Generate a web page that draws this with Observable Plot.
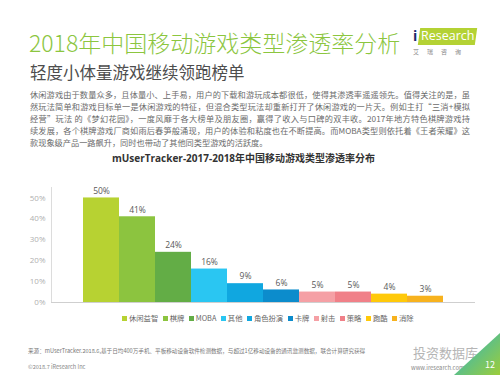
<!DOCTYPE html>
<html><head><meta charset="utf-8">
<script src="https://cdn.jsdelivr.net/npm/d3@7"></script>
<script src="https://cdn.jsdelivr.net/npm/@observablehq/plot@0.6"></script>
<style>
html,body{margin:0;padding:0;background:#fff;}
body{width:500px;height:375px;position:relative;overflow:hidden;font-family:"Noto Sans CJK SC","Open Sans",sans-serif;}
.abs{position:absolute;white-space:nowrap;}
#title{left:29px;top:27px;font-size:23px;line-height:30px;color:#8cc63f;font-weight:300;}
#subtitle{left:30px;top:61px;font-size:16.5px;line-height:22px;color:#4d4d4d;}
#body{left:30px;top:88px;width:440px;font-size:8.2px;line-height:12px;color:#6b6b6b;}
#body div{text-align:justify;text-align-last:justify;white-space:nowrap;}
#body div.last{text-align-last:left;}
#ctitle{left:0;width:487px;text-align:center;top:150px;font-size:10px;font-weight:bold;color:#333;font-family:"Open Sans","Noto Sans CJK SC",sans-serif;line-height:16px;}
#chart{left:0;top:175px;}
#legend{left:122px;top:312px;display:flex;gap:4.5px;font-size:7.3px;line-height:12px;color:#666;}
#legend span.sw{display:inline-block;width:5px;height:5px;margin-right:2px;vertical-align:0px;}
#src{left:28px;top:347px;font-size:5.6px;color:#777;}
#copy{left:28px;top:363px;font-size:5.6px;color:#888;}
#web{left:411px;top:363px;font-size:5.8px;color:#888;}
#wm{left:413px;top:343px;font-size:13px;color:#b5b5b5;}
#corner{right:0;bottom:0;width:46px;height:42px;background:linear-gradient(135deg,#29b6e8 0%,#5bbf8a 45%,#9ccd3a 100%);clip-path:polygon(100% 0,100% 100%,0 100%);}
#pnum{left:485px;top:358px;font-size:9px;color:#fff;}
#logo{left:412px;top:26px;width:70px;height:32px;}
#logo .bar{position:absolute;left:7px;top:2px;width:57px;height:17px;background:#b4d234;transform:skewX(-8deg);}
#logo .txt{position:absolute;left:9px;top:1px;font-size:12.5px;line-height:18px;color:#fff;font-family:"Open Sans",sans-serif;}
#logo .i{position:absolute;left:1px;top:0px;font-size:14px;line-height:19px;color:#1a2a6c;font-family:"Open Sans",sans-serif;font-weight:bold;}
#logo .cn{position:absolute;left:1px;top:22px;font-size:6px;line-height:8px;color:#888;letter-spacing:8px;white-space:nowrap;}
</style></head>
<body>
<div id="title" class="abs">2018年中国移动游戏类型渗透率分析</div>
<div id="subtitle" class="abs">轻度小体量游戏继续领跑榜单</div>
<div id="logo" class="abs"><div class="bar"></div><div class="i">i</div><div class="txt">Research</div><div class="cn">艾瑞咨询</div></div>
<div id="body" class="abs"></div>
<div id="ctitle" class="abs">mUserTracker-2017-2018年中国移动游戏类型渗透率分布</div>
<div id="chart" class="abs"></div>
<div id="legend" class="abs"></div>
<div id="src" class="abs">来源：mUserTracker.2018.6,基于日均400万手机、平板移动设备软件检测数据，与超过1亿移动设备的通讯监测数据，联合计算研究获得</div>
<div id="copy" class="abs">©2018.7 iResearch Inc</div>
<div id="wm" class="abs">投资数据库</div>
<div id="web" class="abs">www.iresearch.com.cn</div>
<div id="corner" class="abs"></div>
<div id="pnum" class="abs">12</div>
<script>
const categories = ["休闲益智","棋牌","MOBA","其他","角色扮演","卡牌","射击","策略","跑酷","消除"];
const values = [50,41,24,16,9,6,5,5,4,3];
const colors = ["#b7d232","#8cc43f","#63ad46","#2ac6f2","#10a7e0","#0c8ccc","#f5a0a5","#f08088","#ffc90a","#f7b21e"];
const yTicks = [0,10,20,30,40,50];
const bodyLines = [
  "休闲游戏由于数量众多，且体量小、上手易，用户的下载和游玩成本都很低，使得其渗透率遥遥领先。值得关注的是，虽",
  "然玩法简单和游戏目标单一是休闲游戏的特征，但混合类型玩法却重新打开了休闲游戏的一片天。例如主打“三消+模拟",
  "经营”玩法 的《梦幻花园》，一度风靡于各大榜单及朋友圈，赢得了收入与口碑的双丰收。2017年地方特色棋牌游戏持",
  "续发展，各个棋牌游戏厂商如雨后春笋般涌现，用户的体验和粘度也在不断提高。而MOBA类型则依托着《王者荣耀》这",
  "款现象级产品一路飙升，同时也带动了其他同类型游戏的活跃度。"
];

const bodyEl = document.getElementById("body");
bodyLines.forEach((t,i)=>{const d=document.createElement("div");d.textContent=t;if(i===bodyLines.length-1)d.className="last";bodyEl.appendChild(d);});

const data = categories.map((c,i)=>({cat:c, v:values[i]}));

const chart = Plot.plot({
  width:500, height:134,
  marginLeft:51, marginRight:25, marginTop:12, marginBottom:7,
  style:{background:"transparent", fontFamily:"Open Sans, Noto Sans CJK SC, sans-serif"},
  x:{domain:categories, padding:0, insetLeft:28, insetRight:28, axis:null},
  y:{domain:[0,55], axis:null},
  color:{domain:categories, range:colors},
  marks:[
    Plot.frame({anchor:"left", stroke:"#dcdcdc"}),
    Plot.axisY({ticks:yTicks, tickSize:0, tickPadding:6, tickFormat:d=>d+"%", fill:"#b0b0b0", fontSize:8, label:null}),
    Plot.barY(data, {x:"cat", y:"v", fill:"cat"}),
    Plot.ruleY([0], {stroke:"#cfcfcf"}),
    Plot.text(data, {x:"cat", y:"v", text:d=>d.v+"%", dy:-7, fill:"#595959", fontSize:8.5})
  ]
});
document.getElementById("chart").appendChild(chart);

const leg = document.getElementById("legend");
categories.forEach((c,i)=>{
  const it=document.createElement("div");
  const sw=document.createElement("span"); sw.className="sw"; sw.style.background=colors[i];
  it.appendChild(sw); it.appendChild(document.createTextNode(c));
  leg.appendChild(it);
});
</script>
</body></html>
